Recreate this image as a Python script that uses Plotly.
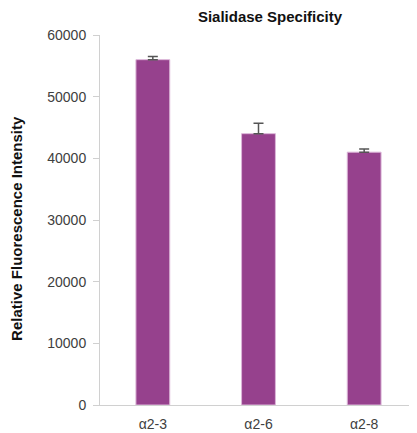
import plotly.graph_objects as go

categories = ["α2-3", "α2-6", "α2-8"]
values = [56000, 44000, 41000]
errors = [500, 1700, 500]
y_ticks = [0, 10000, 20000, 30000, 40000, 50000, 60000]
y_ticktext = [str(v) for v in y_ticks]

fig = go.Figure()
fig.add_trace(go.Bar(
    x=categories, y=values,
    marker=dict(color="#96418d", line=dict(color="#dcb6d8", width=1)),
    error_y=dict(type="data", array=errors, symmetric=False, arrayminus=[0, 0, 0],
                 color="#555555", thickness=1.5, width=5),
    width=0.32,
))

W, H = 409, 425
fig.update_layout(
    width=W, height=H,
    margin=dict(l=92, r=0, t=27, b=28, autoexpand=False),
    plot_bgcolor="white", paper_bgcolor="white",
    font=dict(family="Liberation Sans, Arial, sans-serif", size=14, color="#404040"),
    showlegend=False,
    title=dict(text="<b>Sialidase Specificity</b>", x=262 / W, xanchor="center",
               y=1 - 9 / H, yanchor="middle",
               font=dict(size=15, color="#111111")),
    xaxis=dict(showline=True, linecolor="#d0d0d0", linewidth=1, ticks="",
               ticklabelstandoff=6,
               tickfont=dict(size=14, color="#404040"), range=[-0.5, 2.5]),
    yaxis=dict(range=[0, 60000], tickvals=y_ticks, ticktext=y_ticktext,
               showgrid=False, zeroline=False,
               showline=True, linecolor="#d0d0d0", linewidth=1,
               ticks="outside", ticklen=6, tickcolor="#d0d0d0",
               ticklabelstandoff=4,
               tickfont=dict(size=14, color="#404040")),
    annotations=[dict(text="<b>Relative Fluorescence Intensity</b>", textangle=-90,
                      xref="paper", yref="paper", x=-83 / 317, y=0.476,
                      xanchor="center", yanchor="middle", showarrow=False,
                      font=dict(size=15, color="#111111"))],
)

fig.write_html("out.html")
